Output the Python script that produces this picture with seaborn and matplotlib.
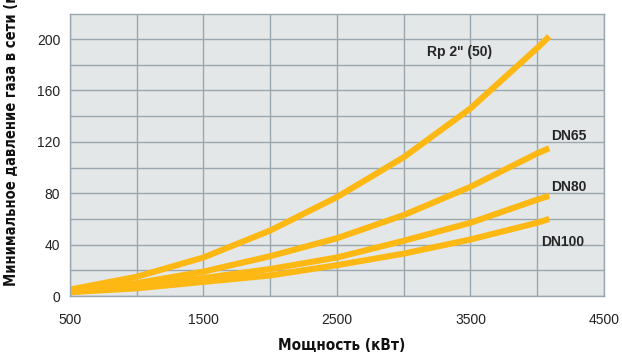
import matplotlib.pyplot as plt
import seaborn as sns
import pandas as pd
import numpy as np

sns.set_theme(style='white')
plt.rcParams['font.family'] = ['Liberation Sans', 'DejaVu Sans']

# данные
power = [500, 1000, 1500, 2000, 2500, 3000, 3500, 4000, 4090]
rp2 = [5, 15, 30, 51, 77, 108, 146, 193, 202]
dn65 = [4, 10, 19, 31, 45, 63, 85, 111, 115]
dn80 = [3, 8, 14, 21, 30, 43, 57, 75, 78]
dn100 = [3, 6, 11, 16, 24, 33, 44, 57, 60]
names = ['Rp 2" (50)', 'DN65', 'DN80', 'DN100']

df = pd.DataFrame({
    'power': power * 4,
    'pressure': rp2 + dn65 + dn80 + dn100,
    'pipe': [n for n in names for _ in power],
})

fig = plt.figure(figsize=(6.22, 3.54), dpi=100)
ax = fig.add_axes([0.1125, 0.1638, 0.8585, 0.7967])
ax.set_facecolor('#e4e7e8')

gold = '#fdb813'
sns.lineplot(data=df, x='power', y='pressure', hue='pipe',
             palette=[gold] * 4, linewidth=4.4, legend=False, ax=ax,
             solid_capstyle='butt', solid_joinstyle='round')

ax.set_xlim(500, 4500)
ax.set_ylim(0, 219.5)
ax.set_xticks([500, 1500, 2500, 3500, 4500])
ax.set_xticks(np.arange(500, 4501, 500), minor=True)
ax.set_yticks(np.arange(0, 201, 40))
ax.set_yticks(np.arange(0, 220, 20), minor=True)
ax.grid(which='both', color='#9ba7ae', linewidth=1.0)
ax.set_axisbelow(True)
for s in ax.spines.values():
    s.set_color('#9ba7ae')
    s.set_linewidth(1.0)
ax.tick_params(axis='both', which='major', length=4, color='#9ba7ae',
               labelsize=10, labelcolor='#222222', pad=3)
ax.tick_params(axis='both', which='minor', length=0)
ax.tick_params(axis='x', pad=8)
ax.set_xlabel('')
ax.set_ylabel('')

# подписи осей (сжатый жирный шрифт)
fig.text(342 / 622, 1 - 345 / 354, 'Мощность (кВт)', fontsize=11,
         fontweight='bold', family='DejaVu Sans', fontstretch='condensed',
         ha='center', va='center', color='#111111')
fig.text(11 / 622, 1 - 286 / 354, 'Минимальное давление газа в сети (мбар)',
         fontsize=10.5, fontweight='bold', family='DejaVu Sans',
         fontstretch='condensed', rotation=90, ha='center', va='bottom',
         color='#111111')

ax.text(3420, 190, 'Rp 2" (50)', fontsize=10, fontweight='bold', ha='center', va='center')
ax.text(4235, 124.5, 'DN65', fontsize=10, fontweight='bold', ha='center', va='center')
ax.text(4235, 85, 'DN80', fontsize=10, fontweight='bold', ha='center', va='center')
ax.text(4190, 42, 'DN100', fontsize=10, fontweight='bold', ha='center', va='center')

fig.savefig('out.png', dpi=100)
